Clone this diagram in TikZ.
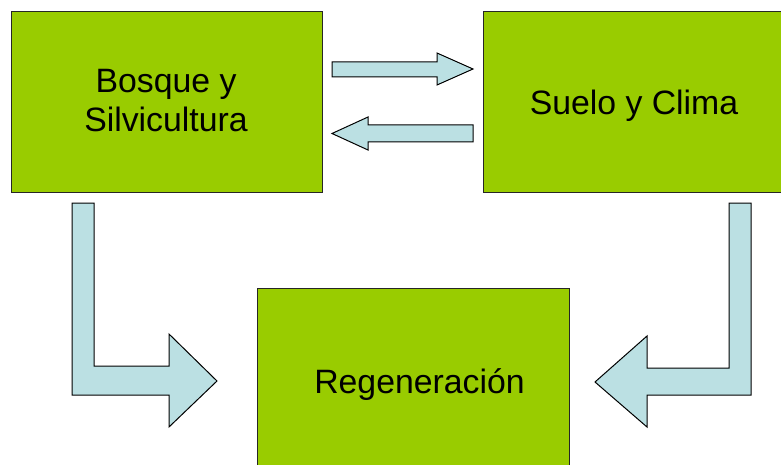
\documentclass[tikz,border=0pt]{standalone}
\usepackage{fontspec}
\setmainfont{Liberation Sans}
\definecolor{boxgreen}{HTML}{99CC00}
\definecolor{arrowfill}{HTML}{BBE0E3}
\tikzset{
  greenbox/.style={draw=black!85, line width=1.3pt, fill=boxgreen, inner sep=0pt, anchor=north west},
  boxtext/.style={font=\fontsize{33.8}{39}\selectfont, align=center, anchor=base, inner sep=0pt},
  blockarrow/.style={draw=black, line width=1pt, fill=arrowfill, line join=miter}
}
\begin{document}
\begin{tikzpicture}[x=1pt,y=-1pt]
\useasboundingbox (0,0) rectangle (781,465);
% boxes
\node[greenbox, minimum width=311pt, minimum height=181pt] (bosque) at (11,11) {};
\node[greenbox, minimum width=310pt, minimum height=181pt] (suelo) at (483,11) {};
\node[greenbox, minimum width=312pt, minimum height=190pt] (regen) at (257,288) {};
% texts
\node[boxtext] (tbosque) at (166,93) {Bosque y};
\node[boxtext] (tsilvi) at (166,132) {Silvicultura};
\node[boxtext] (tsuelo) at (634,115) {Suelo y Clima};
\node[boxtext] (tregen) at (419.5,393) {Regeneración};
% straight arrows
\draw[blockarrow] (332,62) -- (437,62) -- (437,53) -- (473,69) -- (437,85) -- (437,77) -- (332,77) -- cycle;
\draw[blockarrow] (473,125) -- (368,125) -- (368,117) -- (332,133.5) -- (368,150) -- (368,142) -- (473,142) -- cycle;
% bent arrows
\draw[blockarrow] (72,203) -- (94,203) -- (94,366) -- (169,366) -- (169,334) -- (217,381) -- (169,427) -- (169,395) -- (72,395) -- cycle;
\draw[blockarrow] (751,203) -- (729,203) -- (729,368) -- (647,368) -- (647,336) -- (595,382) -- (647,427) -- (647,395) -- (751,395) -- cycle;
\end{tikzpicture}
\end{document}
